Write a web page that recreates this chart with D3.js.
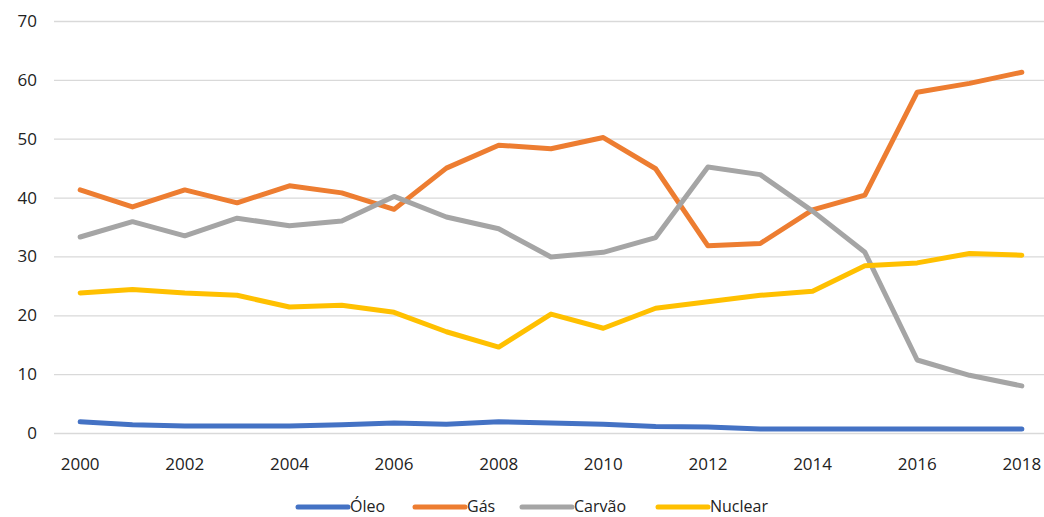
<html><head>
<script src="https://d3js.org/d3.v7.min.js"></script>
<style>
  body { margin: 0; background: #fff; }
  #chart text { font-family: "Open Sans", sans-serif; fill: #222; }
  .grid line { stroke: #d9d9d9; stroke-width: 1.3; }
  .grid .domain { stroke: none; }
  .series { fill: none; stroke-width: 5; stroke-linejoin: round; stroke-linecap: round; }
</style>
</head>
<body>
<svg id="chart" width="1044" height="517"></svg>
<script>
// data
const years = d3.range(2000, 2019);
const xTicks = [2000, 2002, 2004, 2006, 2008, 2010, 2012, 2014, 2016, 2018];
const yTicks = [0, 10, 20, 30, 40, 50, 60, 70];

const oleo    = [1.9, 1.4, 1.2, 1.2, 1.2, 1.4, 1.7, 1.5, 1.9, 1.7, 1.5, 1.1, 1.0, 0.7, 0.7, 0.7, 0.7, 0.7, 0.7];
const gas     = [41.3, 38.4, 41.3, 39.1, 42.0, 40.8, 38.0, 45.0, 48.9, 48.3, 50.2, 44.9, 31.8, 32.2, 37.9, 40.4, 57.9, 59.4, 61.3];
const carvao  = [33.3, 35.9, 33.5, 36.5, 35.2, 36.0, 40.2, 36.7, 34.7, 29.9, 30.7, 33.2, 45.2, 43.9, 37.7, 30.7, 12.4, 9.8, 8.0];
const nuclear = [23.8, 24.4, 23.8, 23.4, 21.4, 21.7, 20.5, 17.2, 14.6, 20.2, 17.8, 21.2, 22.3, 23.4, 24.1, 28.4, 28.9, 30.5, 30.2];

const names  = ["Óleo", "Gás", "Carvão", "Nuclear"];
const colors = ["#4472C4", "#ED7D31", "#A5A5A5", "#FFC000"];
const series = [oleo, gas, carvao, nuclear];

let svg = d3.select("#chart");

const xScale = d3.scaleBand().domain(years).range([54, 1048]);
const yScale = d3.scaleLinear().domain([0, 70]).range([433, 21]);
const xc = d => xScale(d) + xScale.bandwidth() / 2;

// gridlines
svg.append("g")
  .attr("class", "grid")
  .attr("transform", "translate(54,0)")
  .call(d3.axisLeft(yScale).tickValues(yTicks).tickSize(-994).tickFormat(""));

// y labels
svg.append("g").selectAll("text")
  .data(yTicks)
  .join("text")
  .attr("x", 37)
  .attr("y", d => yScale(d))
  .attr("dy", "0.35em")
  .attr("text-anchor", "end")
  .style("font-size", "17px")
  .text(d => d);

// x labels
svg.append("g").selectAll("text")
  .data(xTicks)
  .join("text")
  .attr("x", d => xc(d))
  .attr("y", 470)
  .attr("text-anchor", "middle")
  .style("font-size", "17px")
  .text(d => d);

// lines
let line = d3.line()
  .x((d, i) => xc(years[i]))
  .y(d => yScale(d));

series.forEach((s, k) => {
  svg.append("path")
    .datum(s)
    .attr("class", "series")
    .attr("stroke", colors[k])
    .attr("d", line);
});

// legend
const legendX = [298, 415, 522, 658];
let legend = svg.append("g");
names.forEach((n, k) => {
  legend.append("line")
    .attr("x1", legendX[k]).attr("x2", legendX[k] + 50)
    .attr("y1", 507).attr("y2", 507)
    .attr("stroke", colors[k])
    .attr("stroke-width", 5)
    .attr("stroke-linecap", "round");
  legend.append("text")
    .attr("x", legendX[k] + 52)
    .attr("y", 512)
    .style("font-size", "16px")
    .text(n);
});
</script>
</body>
</html>
